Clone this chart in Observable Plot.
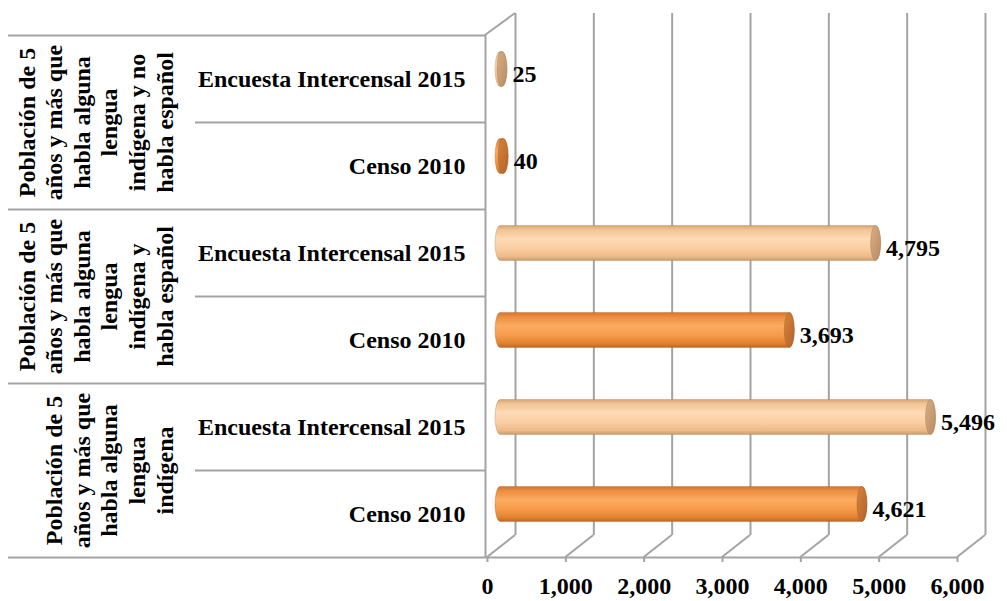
<!DOCTYPE html>
<html><head><meta charset="utf-8">
<script src="https://cdn.jsdelivr.net/npm/d3@7"></script>
<script src="https://cdn.jsdelivr.net/npm/@observablehq/plot@0.6"></script>
<style>
body{margin:0;background:#fff;}
#chart svg{display:block;}
</style>
</head><body>
<svg width="0" height="0" style="position:absolute">
<defs>
<linearGradient id="gCenso" x1="0" y1="0" x2="0" y2="1">
<stop offset="0" stop-color="#cf7632"/><stop offset="0.12" stop-color="#ec8d40"/><stop offset="0.38" stop-color="#fbab60"/><stop offset="0.65" stop-color="#f69b4a"/><stop offset="0.88" stop-color="#e2822f"/><stop offset="1" stop-color="#bf6626"/>
</linearGradient>
<linearGradient id="gEnc" x1="0" y1="0" x2="0" y2="1">
<stop offset="0" stop-color="#d6a474"/><stop offset="0.12" stop-color="#f1c495"/><stop offset="0.38" stop-color="#fedab6"/><stop offset="0.65" stop-color="#fbcea2"/><stop offset="0.88" stop-color="#eebb8a"/><stop offset="1" stop-color="#c99c6c"/>
</linearGradient>
<linearGradient id="gCensoCap" x1="0" y1="0" x2="1" y2="1">
<stop offset="0" stop-color="#d5843e"/><stop offset="1" stop-color="#b4622a"/>
</linearGradient>
<linearGradient id="gEncCap" x1="0" y1="0" x2="1" y2="1">
<stop offset="0" stop-color="#d7ae86"/><stop offset="1" stop-color="#b98c62"/>
</linearGradient>
</defs>
</svg>
<div id="chart"></div>
<script>
const groupLabels = [
  "Población de 5\naños y más que\nhabla alguna\nlengua\nindígena y no\nhabla español",
  "Población de 5\naños y más que\nhabla alguna\nlengua\nindígena y\nhabla español",
  "Población de 5\naños y más que\nhabla alguna\nlengua\nindígena"
];
const seriesNames = ["Encuesta Intercensal 2015", "Censo 2010"];
const values2015 = [25, 4795, 5496];
const values2010 = [40, 3693, 4621];
const xTicks = [0, 1000, 2000, 3000, 4000, 5000, 6000];

const rows = [];
groupLabels.forEach((g, i) => {
  rows.push({key: i + "|E", series: seriesNames[0], value: values2015[i]});
  rows.push({key: i + "|C", series: seriesNames[1], value: values2010[i]});
});
const rowKeys = rows.map(d => d.key);
const groups = groupLabels.map((label, i) => ({label, top: i + "|E", bottom: i + "|C"}));
const fmt = d3.format(",");

const grid = "#a3a3a3";
const depthX = 28, depthY = 22;
const barOpts = {y: "key", dx: 13, insetLeft: -5, insetRight: -5, insetTop: 16.5, insetBottom: 35.5, rx: 5, ry: 17.5};
const isC = d => d.series === seriesNames[1];
const isE = d => d.series === seriesNames[0];
const serif = "'Liberation Serif', 'Times New Roman', serif";

const chart = Plot.plot({
  width: 1007,
  height: 601,
  marginTop: 35,
  marginBottom: 44,
  marginLeft: 8,
  marginRight: 50,
  style: {fontFamily: serif, fontWeight: "bold", fontSize: "24px", color: "black", background: "white"},
  x: {domain: [0, 6000], range: [487, 957], label: null},
  y: {domain: rowKeys, padding: 0, axis: null},
  marks: [
    // back wall gridlines
    Plot.ruleX(xTicks, {dx: depthX, insetTop: -depthY, insetBottom: depthY, stroke: grid, strokeWidth: 2}),
    // cylinders
    Plot.barX(rows, {...barOpts, filter: isC, x1: 0, x2: "value", fill: "url(#gCenso)", stroke: "#b0601f", strokeOpacity: 0.35}),
    Plot.barX(rows, {...barOpts, filter: isE, x1: 0, x2: "value", fill: "url(#gEnc)", stroke: "#b08050", strokeOpacity: 0.35}),
    Plot.barX(rows, {...barOpts, filter: isC, x1: "value", x2: "value", fill: "url(#gCensoCap)", stroke: "#a85a22", strokeOpacity: 0.4}),
    Plot.barX(rows, {...barOpts, filter: isE, x1: "value", x2: "value", fill: "url(#gEncCap)", stroke: "#a07850", strokeOpacity: 0.4}),
    // value labels
    Plot.text(rows, {x: "value", y: "key", text: d => fmt(d.value), textAnchor: "start", dx: 23, dy: -5, fontSize: 24, fontWeight: "bold", fontFamily: serif, fill: "black"}),
    // table lines
    Plot.ruleY(groups, {y: "top", dy: -43.5, insetRight: 472, stroke: grid, strokeWidth: 2}),
    Plot.ruleY(groups, {y: "bottom", dy: -43.5, insetLeft: 187, insetRight: 472, stroke: grid, strokeWidth: 2}),
    Plot.ruleY([rowKeys[rowKeys.length - 1]], {dy: 43.5, stroke: grid, strokeWidth: 2}),
    Plot.ruleX([0], {dx: -2, stroke: grid, strokeWidth: 2}),
    // row labels
    Plot.text(rows, {y: "key", text: "series", frameAnchor: "left", dx: 457, textAnchor: "end", fontSize: 24, fontWeight: "bold", fontFamily: serif, fill: "black"}),
    // group labels
    Plot.text(groups, {y: "top", dy: 43.5, frameAnchor: "left", dx: 164, rotate: -90, text: "label", lineAnchor: "bottom", lineHeight: 1.15, textAnchor: "middle", fontSize: 24, fontWeight: "bold", fontFamily: serif, fill: "black"}),
    // x axis
    Plot.axisX({ticks: xTicks, tickFormat: fmt, label: null, tickSize: 5, tickPadding: 14, stroke: grid, strokeWidth: 2, fontSize: 24, fontWeight: "bold", fontFamily: serif, fill: "black"})
  ]
});
document.getElementById("chart").appendChild(chart);

// 3D floor diagonals and top-left wall edge, positioned through Plot's scales
const xs = chart.scale("x"), ys = chart.scale("y");
const floorY = ys.apply(rowKeys[rowKeys.length - 1]) + ys.bandwidth;
const topY = ys.apply(rowKeys[0]);
const g = d3.select(chart).append("g").attr("stroke", grid).attr("stroke-width", 2).attr("fill", "none");
xTicks.forEach(t => {
  const x0 = xs.apply(t);
  g.append("line").attr("x1", x0).attr("y1", floorY).attr("x2", x0 + depthX).attr("y2", floorY - depthY);
});
const xz = xs.apply(0);
g.append("line").attr("x1", xz - 2).attr("y1", topY).attr("x2", xz + depthX).attr("y2", topY - depthY);
</script>
</body></html>
